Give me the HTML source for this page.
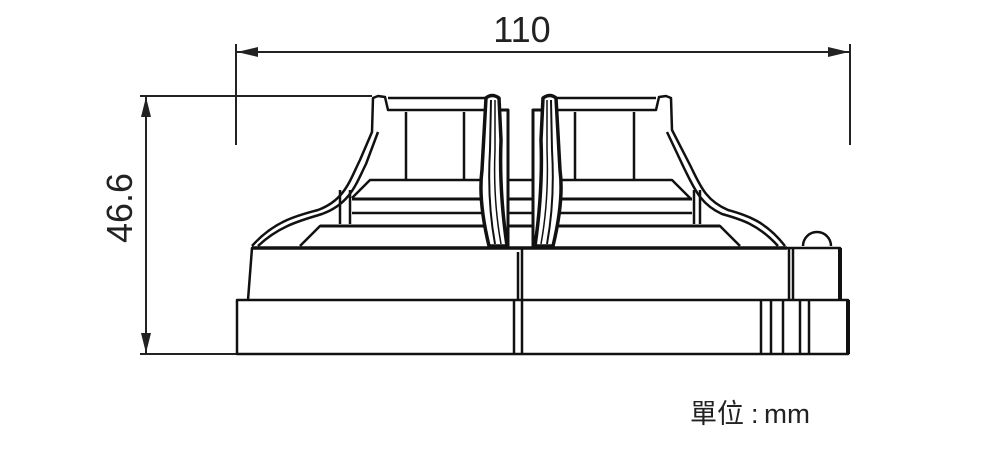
<!DOCTYPE html>
<html><head><meta charset="utf-8"><style>
html,body{margin:0;padding:0;background:#fff;width:1000px;height:450px;overflow:hidden}
svg{display:block}
text{font-family:"Liberation Sans","Noto Sans CJK TC",sans-serif;fill:#222}
</style></head><body>
<svg width="1000" height="450" viewBox="0 0 1000 450" xmlns="http://www.w3.org/2000/svg">
<g stroke="#222" fill="none" stroke-width="2">
<line x1="236" y1="44" x2="236" y2="145"/>
<line x1="850" y1="44" x2="850" y2="145"/>
<line x1="236" y1="52" x2="850" y2="52"/>
<line x1="140" y1="96" x2="372" y2="96"/>
<line x1="140" y1="354" x2="236" y2="354"/>
<line x1="146" y1="96" x2="146" y2="354"/>
</g>
<g fill="#222">
<polygon points="237,52 258,47 258,57"/>
<polygon points="849,52 828,47 828,57"/>
<polygon points="146,97 141,117 151,117"/>
<polygon points="146,353 141,333 151,333"/>
</g>
<text x="522" y="42" font-size="36" text-anchor="middle">110</text>
<text transform="translate(132,208) rotate(-90)" font-size="36" text-anchor="middle">46.6</text>
<text x="690" y="423" font-size="27">單位</text>
<text x="751" y="423" font-size="27">:</text>
<text x="764" y="423" font-size="27" textLength="46" lengthAdjust="spacingAndGlyphs">mm</text>

<g stroke="#111" fill="none" stroke-width="2.5" stroke-linejoin="round">
<rect x="237" y="300" width="611" height="54"/>
<line x1="848" y1="300" x2="848" y2="354" stroke-width="4"/>
<line x1="514" y1="300" x2="514" y2="354"/>
<line x1="522" y1="248" x2="522" y2="354"/>
<line x1="518" y1="252" x2="518" y2="300"/>
<line x1="761" y1="300" x2="761" y2="354"/>
<line x1="771" y1="300" x2="771" y2="354"/>
<line x1="783" y1="300" x2="783" y2="354"/>
<line x1="800" y1="300" x2="800" y2="354"/>
<line x1="809" y1="300" x2="809" y2="354"/>
<path d="M248,300 L252,248 L840,248 L840,300"/>
<line x1="252" y1="248" x2="787" y2="248" stroke-width="3.5"/>
<line x1="789" y1="248" x2="789" y2="300"/>
<line x1="793" y1="248" x2="793" y2="300"/>
<line x1="840" y1="248" x2="840" y2="300" stroke-width="4"/>
<path d="M803,246 A14,14 0 0 1 831,246"/>
<path d="M252,246 C275,220 300,215 318,210 C345,200 350,180 360,160 L372,132 L373,98 L378,96 L385,97 L388,110 L487,110"/>
<path d="M258,246 C280,225 303,220 322,214 C350,204 356,184 366,164 L378,132"/>
<path d="M388,98 L487,98"/>
<line x1="340" y1="190" x2="340" y2="224"/>
<line x1="350" y1="190" x2="350" y2="224"/>
<path d="M785,246 C765,220 745,215 728,210 C705,200 700,185 690,165 L672,130 L671,98 L666,96 L659,97 L656,110 L555,110"/>
<path d="M778,246 C758,224 740,219 722,214 C700,204 694,188 684,168 L667,132"/>
<path d="M656,98 L555,98"/>
<line x1="694" y1="190" x2="694" y2="224"/>
<line x1="700" y1="190" x2="700" y2="224"/>
<line x1="406" y1="112" x2="406" y2="180"/>
<line x1="464" y1="112" x2="464" y2="180"/>
<line x1="575" y1="112" x2="575" y2="180"/>
<line x1="634" y1="112" x2="634" y2="180"/>
<path d="M352,198 L370,180 L672,180 L690,198"/>
<line x1="352" y1="199" x2="692" y2="199" stroke-width="3"/>
<line x1="352" y1="213" x2="692" y2="213"/>
<path d="M300,246 L320,226 L720,226 L740,246"/>
<line x1="320" y1="226" x2="720" y2="226" stroke-width="3"/>
<g fill="#fff">
<rect x="499" y="110" width="9" height="137" stroke-width="3"/>
<rect x="533" y="110" width="9" height="137" stroke-width="3"/>
<path d="M486,98 Q492,93 499,98 L501,140 Q499,190 507,246 L489,246 Q478,200 482,170 L486,98 Z" stroke-width="3.5"/>
<path d="M556,98 Q550,93 543,98 L541,140 Q543,190 535,246 L553,246 Q564,200 560,170 L556,98 Z" stroke-width="3.5"/>
</g>
<path d="M491,100 L490,150 Q487,200 495,244" stroke-width="2"/>
<path d="M495,100 L495,150 Q493,200 501,244" stroke-width="1.5"/>
<path d="M551,100 L552,150 Q555,200 547,244" stroke-width="2"/>
<path d="M547,100 L547,150 Q549,200 541,244" stroke-width="1.5"/>
</g>
</svg>
</body></html>
